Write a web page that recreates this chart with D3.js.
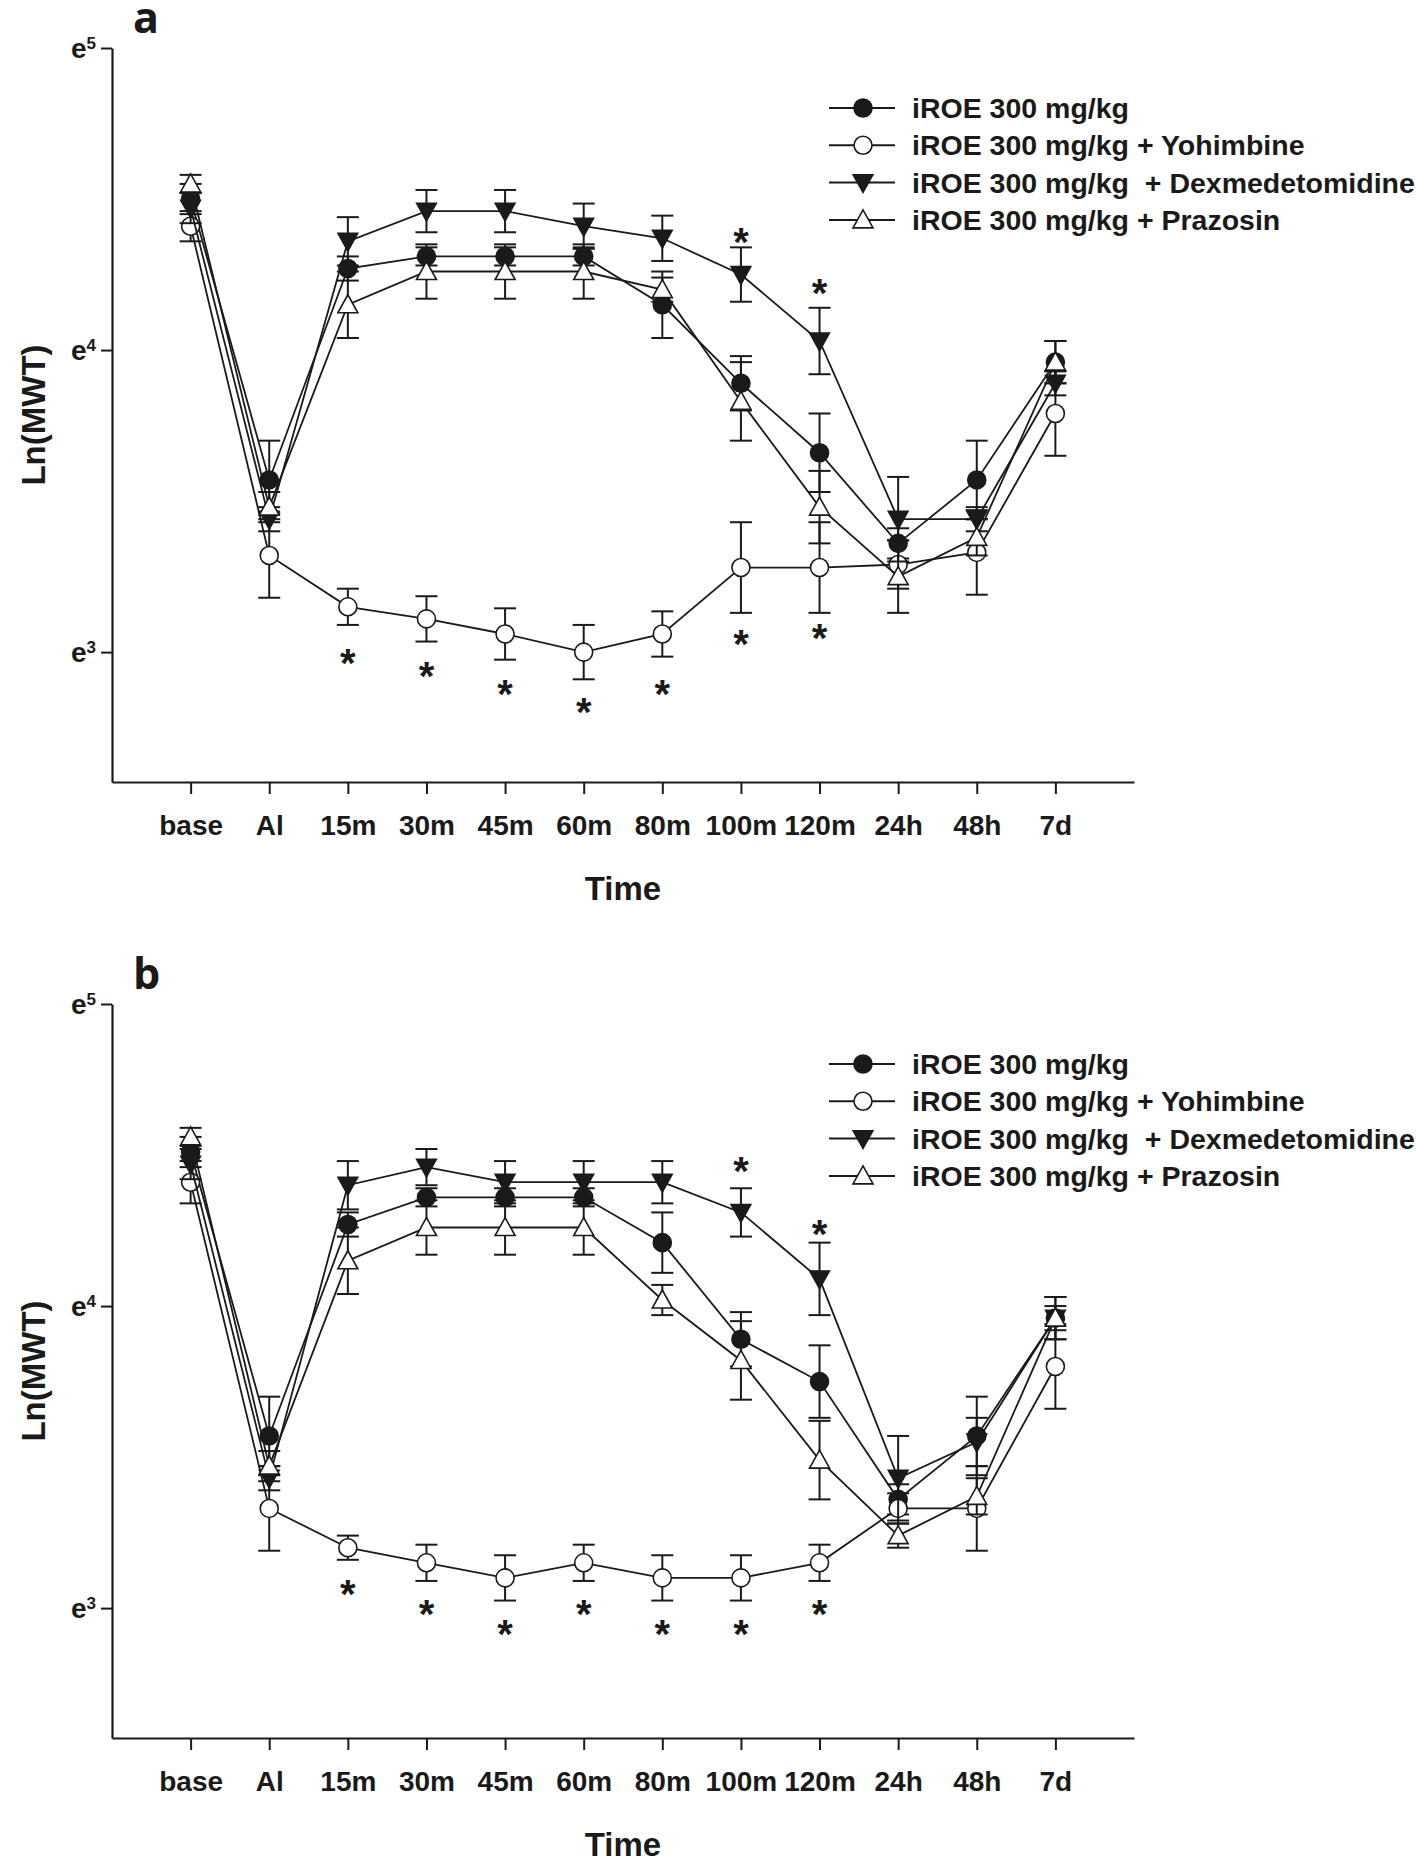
<!DOCTYPE html>
<html><head><meta charset="utf-8">
<script src="https://cdn.jsdelivr.net/npm/d3@7"></script>
<style>
body{margin:0;background:#fff}
text{font-family:"Liberation Sans",Arial,Helvetica,sans-serif;font-weight:bold;fill:#1a1a1a}
</style>
</head><body>
<svg id="chart" width="1416" height="1857" xmlns="http://www.w3.org/2000/svg"></svg>
<script>
// ---------- data ----------
const timeLabels = ["base","Al","15m","30m","45m","60m","80m","100m","120m","24h","48h","7d"];
const seriesNames = ["iROE 300 mg/kg","iROE 300 mg/kg + Yohimbine","iROE 300 mg/kg  + Dexmedetomidine","iROE 300 mg/kg + Prazosin"];
const yTickValues = [3,4,5];
const yTickLabels = ["3","4","5"]; // exponents of e

// Panel a (values are ln(MWT))
const aIROE     = [4.50,3.57,4.27,4.31,4.31,4.31,4.15,3.89,3.66,3.36,3.57,3.96];
const aIROEErr  = [0.05,0.13,0.04,0.03,0.03,0.03,0.11,0.09,0.13,0.05,0.13,0.07];
const aYoh      = [4.41,3.32,3.15,3.11,3.06,3.00,3.06,3.28,3.28,3.29,3.33,3.79];
const aYohErr   = [0.05,0.14,0.06,0.075,0.085,0.09,0.075,0.15,0.15,0.08,0.14,0.14];
const aDex      = [4.47,3.44,4.36,4.46,4.46,4.41,4.37,4.25,4.03,3.44,3.44,3.89];
const aDexErr   = [0.05,0.04,0.08,0.07,0.07,0.075,0.075,0.09,0.11,0.14,0.04,0.04];
const aPra      = [4.55,3.48,4.15,4.26,4.26,4.26,4.20,3.83,3.48,3.25,3.38,3.96];
const aPraErr   = [0.03,0.05,0.11,0.09,0.09,0.09,0.04,0.13,0.12,0.12,0.06,0.07];
// significance marks: time point and the ln level at which the "*" sits
const aYohStars      = ["15m","30m","45m","60m","80m","100m","120m"];
const aYohStarLevels = [2.995,2.952,2.893,2.834,2.893,3.058,3.077];
const aDexStars      = ["100m","120m"];
const aDexStarLevels = [4.39,4.22];

// Panel b
const bIROE     = [4.51,3.57,4.27,4.36,4.36,4.36,4.21,3.89,3.75,3.36,3.57,3.96];
const bIROEErr  = [0.05,0.13,0.04,0.03,0.03,0.03,0.10,0.09,0.12,0.05,0.13,0.07];
const bYoh      = [4.41,3.33,3.20,3.15,3.10,3.15,3.10,3.10,3.15,3.33,3.33,3.80];
const bYohErr   = [0.07,0.14,0.04,0.06,0.075,0.06,0.075,0.075,0.06,0.05,0.14,0.14];
const bDex      = [4.47,3.43,4.40,4.46,4.41,4.41,4.41,4.31,4.09,3.43,3.55,3.96];
const bDexErr   = [0.05,0.04,0.08,0.06,0.07,0.07,0.07,0.08,0.12,0.14,0.08,0.04];
const bPra      = [4.56,3.47,4.15,4.26,4.26,4.26,4.02,3.82,3.49,3.24,3.37,3.96];
const bPraErr   = [0.03,0.05,0.11,0.09,0.09,0.09,0.05,0.13,0.13,0.04,0.06,0.07];
const bYohStars      = ["15m","30m","45m","60m","80m","100m","120m"];
const bYohStarLevels = [3.079,3.013,2.946,3.013,2.946,2.946,3.013];
const bDexStars      = ["100m","120m"];
const bDexStarLevels = [4.48,4.27];

// ---------- drawing ----------
const svg = d3.select("#chart");
const x = d3.scaleLinear().domain([0, 13]).range([112, 1134]);
const INK = "#1a1a1a";
const symbols = ["filledCircle","openCircle","downTri","upTri"];
const STAR_FS = 40;

function drawSymbol(g, kind, cx, cy) {
  if (kind === "filledCircle" || kind === "openCircle") {
    g.append("circle").attr("cx", cx).attr("cy", cy).attr("r", 9)
      .attr("fill", kind === "filledCircle" ? INK : "#fff")
      .attr("stroke", INK).attr("stroke-width", 1.6);
  } else if (kind === "downTri") {
    g.append("path").attr("d", `M${cx-10},${cy-8}L${cx+10},${cy-8}L${cx},${cy+10}Z`)
      .attr("fill", INK).attr("stroke", INK).attr("stroke-width", 1.4);
  } else {
    g.append("path").attr("d", `M${cx-10},${cy+8}L${cx+10},${cy+8}L${cx},${cy-10}Z`)
      .attr("fill", "#fff").attr("stroke", INK).attr("stroke-width", 1.6);
  }
}

function panel(top, letter, vals, errs, stars) {
  const g = svg.append("g");
  const y = d3.scaleLinear().domain([2.57, 5]).range([top + 734, top]);

  // panel letter
  g.append("text").attr("x", 133).attr("y", top - 15)
    .style("font-family", '"Open Sans","DejaVu Sans",sans-serif')
    .style("font-size", "43px").style("font-weight", "bold").text(letter);

  // x axis
  const xa = g.append("g").attr("transform", `translate(0,${y(2.57)})`)
    .call(d3.axisBottom(x).tickValues(d3.range(1, 13)).tickSize(12).tickSizeOuter(0)
      .tickFormat(i => timeLabels[i - 1]));
  xa.select(".domain").attr("stroke", INK).attr("stroke-width", 2.2);
  xa.selectAll(".tick line").attr("stroke", INK).attr("stroke-width", 2);
  xa.selectAll(".tick text").attr("y", 53).attr("dy", null)
    .style("font-size", "28px").attr("fill", INK)
    .style("font-family", '"Liberation Sans",Arial,sans-serif').style("font-weight", "bold");

  // y axis
  const ya = g.append("g").attr("transform", `translate(${x(0)},0)`)
    .call(d3.axisLeft(y).tickValues(yTickValues).tickSize(11).tickSizeOuter(0).tickFormat(() => ""));
  ya.select(".domain").attr("stroke", INK).attr("stroke-width", 2.2);
  ya.selectAll(".tick line").attr("stroke", INK).attr("stroke-width", 2);
  ya.selectAll(".tick text").remove();
  yTickValues.forEach((v, i) => {
    const t = g.append("text").attr("x", 96).attr("y", y(v) + 10).attr("text-anchor", "end");
    t.append("tspan").style("font-size", "28px").text("e");
    t.append("tspan").attr("dy", -9).style("font-size", "17px").text(yTickLabels[i]);
  });

  // axis titles
  g.append("text").attr("x", (x(0) + x(13)) / 2).attr("y", top + 852)
    .attr("text-anchor", "middle").style("font-size", "33px").text("Time");
  g.append("text").attr("transform", `translate(45,${top + 367}) rotate(-90)`)
    .attr("text-anchor", "middle").style("font-size", "33px").text("Ln(MWT)");

  // series
  const line = d3.line().x((d, i) => x(i + 1)).y(d => y(d));
  vals.forEach((arr, s) => {
    const sg = g.append("g");
    arr.forEach((v, i) => {
      const cx = x(i + 1), e = errs[s][i];
      sg.append("line").attr("x1", cx).attr("x2", cx).attr("y1", y(v - e)).attr("y2", y(v + e))
        .attr("stroke", INK).attr("stroke-width", 2);
      [v - e, v + e].forEach(w => sg.append("line").attr("x1", cx - 11).attr("x2", cx + 11)
        .attr("y1", y(w)).attr("y2", y(w)).attr("stroke", INK).attr("stroke-width", 2));
    });
    sg.append("path").datum(arr).attr("d", line).attr("fill", "none")
      .attr("stroke", INK).attr("stroke-width", 1.8);
    arr.forEach((v, i) => drawSymbol(sg, symbols[s], x(i + 1), y(v)));
  });

  // significance asterisks
  stars.forEach(([labels, levels]) => {
    labels.forEach((lbl, k) => {
      const i = timeLabels.indexOf(lbl);
      g.append("text").attr("x", x(i + 1)).attr("y", y(levels[k]) + STAR_FS * 0.59)
        .attr("text-anchor", "middle").style("font-size", STAR_FS + "px").text("*");
    });
  });

  // legend
  seriesNames.forEach((name, s) => {
    const ry = top + 60 + s * 37.3;
    g.append("line").attr("x1", 829).attr("x2", 895).attr("y1", ry).attr("y2", ry)
      .attr("stroke", INK).attr("stroke-width", 2);
    drawSymbol(g, symbols[s], 863, ry);
    g.append("text").attr("x", 912).attr("y", ry + 10).style("font-size", "28.5px")
      .style("white-space", "pre").attr("xml:space", "preserve").text(name);
  });
}

panel(48, "a", [aIROE, aYoh, aDex, aPra], [aIROEErr, aYohErr, aDexErr, aPraErr],
      [[aYohStars, aYohStarLevels], [aDexStars, aDexStarLevels]]);
panel(1004, "b", [bIROE, bYoh, bDex, bPra], [bIROEErr, bYohErr, bDexErr, bPraErr],
      [[bYohStars, bYohStarLevels], [bDexStars, bDexStarLevels]]);
</script>
</body></html>
